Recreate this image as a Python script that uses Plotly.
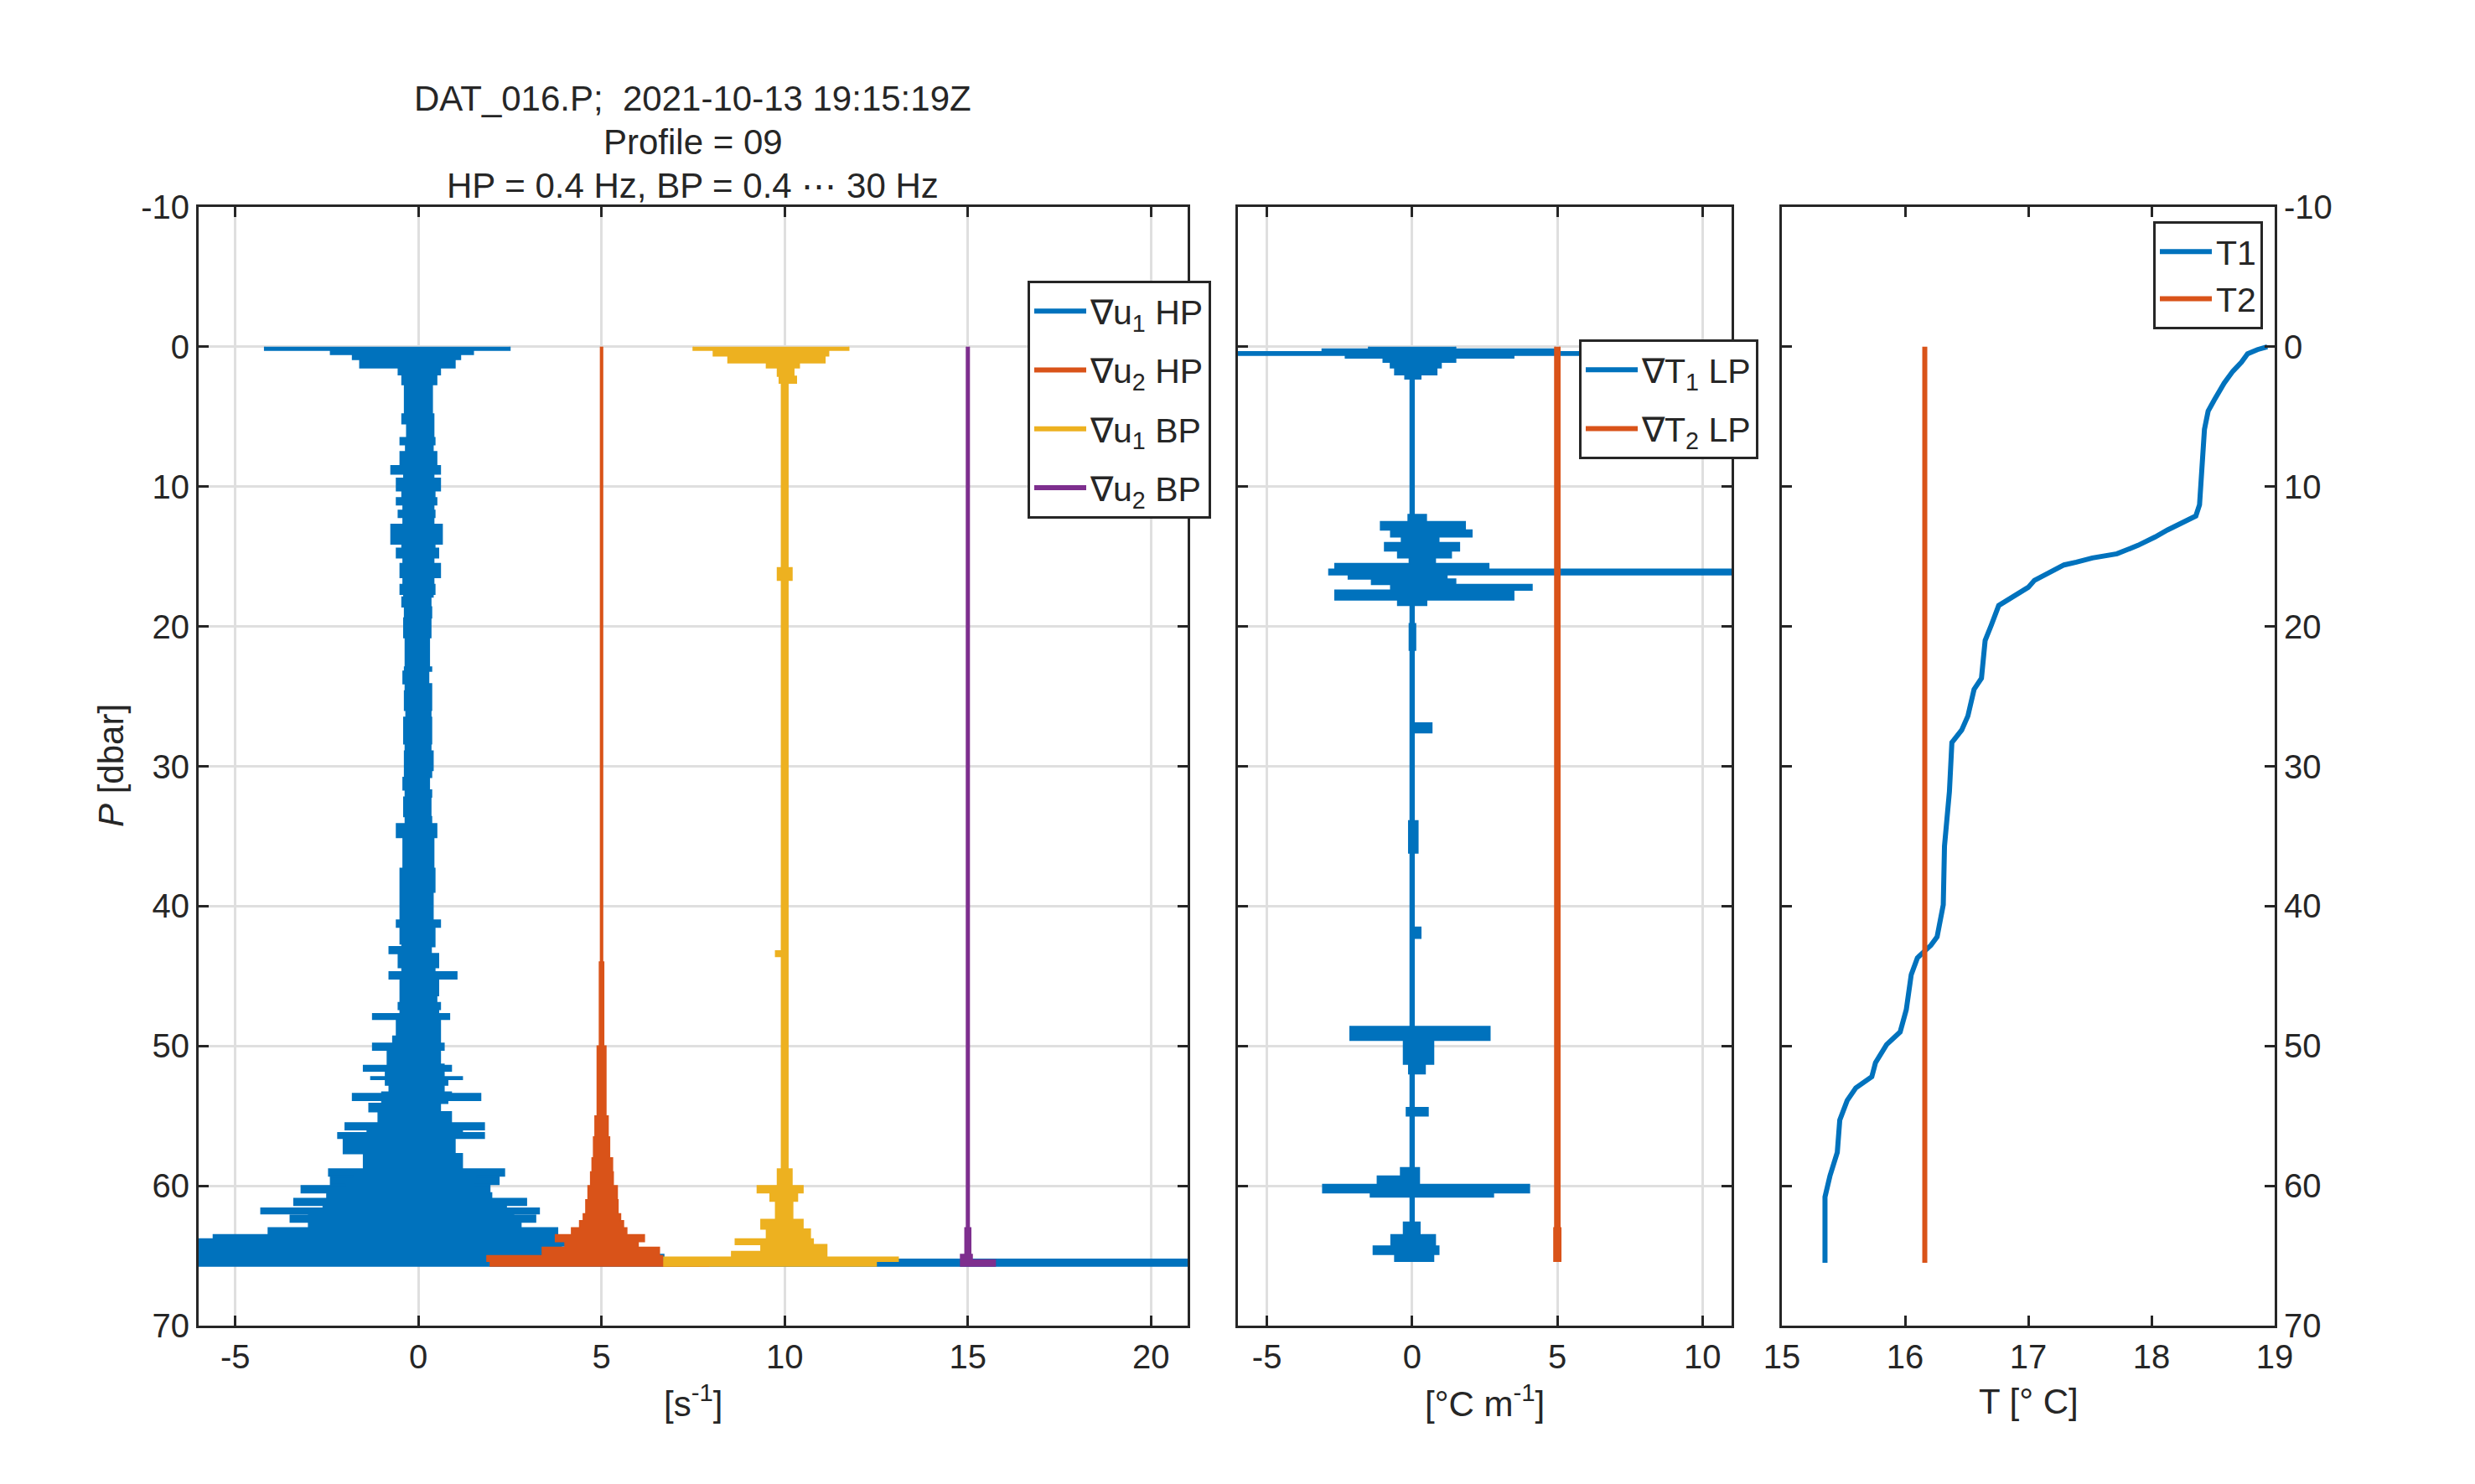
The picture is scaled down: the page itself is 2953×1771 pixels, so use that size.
import plotly.graph_objects as go

# ---- data --------------------------------------------------------------
# shear probes: depth of each sample band [dbar], left/right extent [s^-1]
u1hp_p = [0.0, 0.25, 0.55, 0.9, 1.5, 2.0, 2.7, 4.8, 5.5, 6.5, 7.0, 7.5, 8.5, 9.1, 9.4, 10.3, 10.8,
          11.3, 11.7, 12.2, 12.7, 14.1, 14.4, 15.1, 15.5, 16.5, 17.0, 17.7, 17.9, 18.6, 19.4, 20.8,
          22.9, 23.2, 24.1, 24.6, 26.0, 26.5, 28.4, 28.9, 30.3, 30.8, 31.7, 32.2, 33.6, 34.1, 35.1,
          37.3, 39.0, 41.0, 41.5, 42.7, 42.9, 43.4, 44.4, 44.7, 45.2, 46.4, 46.9, 47.4, 47.7, 48.1,
          48.4, 49.3, 49.8, 50.3, 51.3, 51.4, 51.8, 52.2, 52.4, 52.8, 53.3, 53.4, 53.9, 54.1, 54.7,
          55.5, 56.0, 56.2, 56.6, 57.7, 58.8, 59.3, 59.4, 59.9, 60.0, 60.5, 60.9, 61.4, 61.6, 62.0,
          62.1, 62.6, 63.0, 63.5, 63.8, 64.3, 64.9, 65.25]
u1hp_lo = [-4.2, -2.4, -1.8, -1.6, -0.55, -0.45, -0.38, -0.45, -0.32, -0.5, -0.35, -0.5, -0.75, -0.4,
           -0.6, -0.45, -0.6, -0.42, -0.55, -0.42, -0.75, -0.45, -0.6, -0.42, -0.5, -0.42, -0.5, -0.4,
           -0.45, -0.38, -0.4, -0.36, -0.38, -0.42, -0.36, -0.38, -0.34, -0.4, -0.36, -0.38, -0.38,
           -0.42, -0.36, -0.4, -0.36, -0.6, -0.42, -0.5, -0.5, -0.6, -0.5, -0.45, -0.8, -0.55, -0.45,
           -0.8, -0.5, -0.5, -0.55, -0.5, -1.25, -0.6, -0.6, -0.7, -1.25, -0.85, -0.8, -1.5, -0.9,
           -1.3, -0.9, -0.8, -1.0, -1.8, -1.0, -1.35, -1.1, -2.0, -1.4, -2.2, -2.05, -1.5, -2.45,
           -1.8, -2.4, -2.0, -3.2, -2.5, -3.4, -2.6, -4.3, -3.0, -3.5, -3.0, -4.1, -5.6, -6.1, -6.1,
           -6.1, -6.1]
u1hp_hi = [2.5, 1.5, 1.15, 1.0, 0.6, 0.5, 0.38, 0.42, 0.42, 0.45, 0.4, 0.5, 0.6, 0.42, 0.6, 0.45,
           0.5, 0.42, 0.45, 0.42, 0.65, 0.45, 0.55, 0.42, 0.6, 0.42, 0.45, 0.4, 0.34, 0.36, 0.34,
           0.3, 0.36, 0.28, 0.36, 0.36, 0.34, 0.36, 0.34, 0.4, 0.36, 0.3, 0.36, 0.34, 0.36, 0.5,
           0.42, 0.45, 0.4, 0.6, 0.45, 0.45, 0.35, 0.55, 0.45, 1.05, 0.55, 0.5, 0.6, 0.55, 0.85, 0.6,
           0.6, 0.6, 0.7, 0.6, 0.7, 0.9, 0.7, 1.2, 0.8, 0.7, 0.9, 1.7, 0.8, 0.6, 0.9, 1.8, 1.2, 1.8,
           1.0, 1.2, 2.35, 1.6, 2.2, 1.5, 1.95, 2.0, 2.95, 2.4, 3.3, 2.6, 3.2, 2.8, 3.8, 3.75, 4.55,
           3.9, 6.7, 21.5]

u2hp_p = [0.0, 44.0, 50.0, 55.0, 56.5, 58.0, 59.0, 60.0, 61.0, 62.0, 62.5, 63.0, 63.5, 64.0, 64.4,
          65.0, 65.4]
u2hp_lo = [-0.03, -0.06, -0.12, -0.18, -0.22, -0.26, -0.3, -0.37, -0.43, -0.5, -0.6, -0.82, -1.26,
           -1.0, -1.62, -3.13, -3.04]
u2hp_hi = [0.03, 0.06, 0.12, 0.18, 0.22, 0.3, 0.32, 0.43, 0.45, 0.52, 0.6, 0.69, 1.17, 1.0, 1.58,
           1.67, 2.92]

u1bp_p = [0.0, 0.25, 0.65, 1.15, 1.5, 2.1, 2.6, 15.8, 16.7, 43.2, 43.6, 58.8, 60.0, 60.5, 61.1,
          62.4, 63.1, 63.8, 64.2, 64.7, 65.1, 65.4]
u1bp_lo = [-2.5, -1.95, -1.55, -0.5, -0.2, -0.15, -0.09, -0.2, -0.09, -0.25, -0.09, -0.2, -0.75,
           -0.4, -0.25, -0.65, -0.5, -1.35, -0.65, -1.45, -3.3, -3.3]
u1bp_hi = [1.75, 1.2, 1.1, 0.4, 0.25, 0.32, 0.09, 0.2, 0.09, 0.1, 0.09, 0.2, 0.5, 0.35, 0.22, 0.5,
           0.7, 0.78, 1.15, 1.15, 3.1, 2.5]

u2bp_p = [0.0, 63.0, 64.9, 65.3]
u2bp_lo = [-0.04, -0.08, -0.2, -0.2]
u2bp_hi = [0.04, 0.08, 0.12, 0.75]

shear_end = 65.75
shear_offsets = [0, 5, 10, 15]

# thermistor gradients [degC m^-1]
t1lp_p = [0.0, 0.15, 0.35, 0.6, 0.8, 1.1, 1.5, 2.0, 2.3, 12.0, 12.5, 13.1, 13.6, 14.0, 14.6, 15.1,
          15.5, 15.9, 16.3, 16.6, 17.0, 17.4, 18.1, 18.5, 19.8, 21.7, 26.9, 27.6, 33.9, 36.2, 41.5,
          42.3, 48.6, 49.6, 51.3, 52.0, 54.4, 55.0, 58.7, 59.3, 59.9, 60.5, 60.8, 62.6, 63.5, 64.3,
          64.9]
t1lp_lo = [-1.5, -3.1, -6.2, -2.3, -1.0, -0.75, -0.6, -0.25, -0.07, -0.14, -1.09, -0.74, -0.37,
           -0.95, -0.5, -0.1, -2.66, -2.87, -2.2, -1.4, -0.74, -2.66, -0.5, -0.07, -0.1, -0.07,
           -0.07, -0.07, -0.12, -0.07, -0.05, -0.07, -2.14, -0.3, -0.12, -0.07, -0.2, -0.07, -0.4,
           -1.2, -3.08, -1.44, -0.07, -0.3, -0.73, -1.34, -0.6]
t1lp_hi = [1.5, 5.0, 11.5, 3.5, 1.5, 1.0, 0.85, 0.3, 0.07, 0.49, 1.83, 2.06, 0.92, 1.63, 1.35, 0.8,
           2.64, 11.5, 1.2, 1.5, 4.13, 3.5, 0.5, 0.07, 0.12, 0.07, 0.68, 0.07, 0.2, 0.07, 0.3, 0.07,
           2.68, 0.74, 0.45, 0.07, 0.55, 0.07, 0.25, 0.25, 4.04, 2.8, 0.07, 0.27, 0.8, 0.92, 0.74]

t2lp_p = [0.0, 63.0]
t2lp_lo = [-0.09, -0.12]
t2lp_hi = [0.09, 0.12]

grad_end = 65.4
grad_offsets = [0, 5]

# temperature profile
t_p = [0.0, 0.2, 0.5, 0.8, 1.1, 1.75, 2.6, 3.8, 4.6, 5.9, 8.6, 11.3, 12.1, 12.5, 13.1, 13.6, 14.2,
       14.8, 15.1, 15.4, 15.6, 16.2, 16.7, 17.2, 17.8, 18.5, 19.9, 21.0, 23.7, 24.5, 26.4, 27.4,
       28.3, 31.8, 35.7, 39.9, 42.2, 42.8, 43.7, 44.9, 47.4, 49.0, 49.9, 51.2, 52.2, 53.0, 53.9,
       55.3, 57.6, 59.3, 60.8, 65.5]
T1 = [18.94, 18.86, 18.78, 18.76, 18.73, 18.66, 18.59, 18.51, 18.46, 18.43, 18.41, 18.39, 18.36,
      18.26, 18.13, 18.03, 17.89, 17.72, 17.52, 17.39, 17.29, 17.16, 17.05, 17.0, 16.88, 16.76,
      16.70, 16.65, 16.62, 16.56, 16.51, 16.46, 16.38, 16.36, 16.32, 16.31, 16.26, 16.21, 16.10,
      16.05, 16.01, 15.96, 15.85, 15.76, 15.73, 15.60, 15.53, 15.47, 15.45, 15.39, 15.35, 15.35]
t2_p = [0.0, 65.5]
T2 = [16.16, 16.16]

title_lines = ["DAT_016.P;\u00a0 2021-10-13 19:15:19Z", "Profile = 09",
               "HP = 0.4 Hz, BP = 0.4 \u22ef 30 Hz"]
p_ticks = [-10, 0, 10, 20, 30, 40, 50, 60, 70]
shear_ticks = [-5, 0, 5, 10, 15, 20]
grad_ticks = [-5, 0, 5, 10]
temp_ticks = [15, 16, 17, 18, 19]

# ---- style -------------------------------------------------------------
W, H = 2953, 1771
FONT = "Liberation Sans, Arial, Helvetica, sans-serif"
INK = "#262626"
BLUE, ORANGE, YELLOW, PURPLE = "#0072BD", "#D95319", "#EDB120", "#7E2F8E"


def outline(p, lo, hi, p_end, offset):
    # stair-step outline of the band each sample covers, down the left side, up the right
    bottoms = list(p[1:]) + [p_end]
    xs, ys = [], []
    for top, bot, v in zip(p, bottoms, lo):
        xs += [offset + v, offset + v]
        ys += [top, bot]
    for top, bot, v in reversed(list(zip(p, bottoms, hi))):
        xs += [offset + v, offset + v]
        ys += [bot, top]
    return xs, ys


fig = go.Figure()


def add_band(p, lo, hi, p_end, offset, color, name, xa, ya, legend):
    xs, ys = outline(p, lo, hi, p_end, offset)
    fig.add_trace(go.Scatter(x=xs, y=ys, mode="lines", fill="toself", fillcolor=color,
                             line=dict(color=color, width=1.5), xaxis=xa, yaxis=ya,
                             showlegend=False, hoverinfo="skip"))
    # legend entry drawn as a line, like the original
    fig.add_trace(go.Scatter(x=[None], y=[None], mode="lines", line=dict(color=color, width=6),
                             name=name, legendgroup=name, xaxis=xa, yaxis=ya, legend=legend))


shear = [(u1hp_p, u1hp_lo, u1hp_hi, BLUE, "\u2207u<sub>1</sub> HP"),
         (u2hp_p, u2hp_lo, u2hp_hi, ORANGE, "\u2207u<sub>2</sub> HP"),
         (u1bp_p, u1bp_lo, u1bp_hi, YELLOW, "\u2207u<sub>1</sub> BP"),
         (u2bp_p, u2bp_lo, u2bp_hi, PURPLE, "\u2207u<sub>2</sub> BP")]
for (p, lo, hi, c, n), off in zip(shear, shear_offsets):
    add_band(p, lo, hi, shear_end, off, c, n, "x", "y", "legend")

grads = [(t1lp_p, t1lp_lo, t1lp_hi, BLUE, "\u2207T<sub>1</sub> LP"),
         (t2lp_p, t2lp_lo, t2lp_hi, ORANGE, "\u2207T<sub>2</sub> LP")]
for (p, lo, hi, c, n), off in zip(grads, grad_offsets):
    add_band(p, lo, hi, grad_end, off, c, n, "x2", "y2", "legend2")

fig.add_trace(go.Scatter(x=T1, y=t_p, mode="lines", line=dict(color=BLUE, width=6), name="T1",
                         xaxis="x3", yaxis="y3", legend="legend3"))
fig.add_trace(go.Scatter(x=T2, y=t2_p, mode="lines", line=dict(color=ORANGE, width=6), name="T2",
                         xaxis="x3", yaxis="y3", legend="legend3"))

tickfont = dict(family=FONT, size=40, color=INK)
base = dict(showline=True, linecolor=INK, linewidth=3, mirror="ticks", ticks="inside",
            ticklen=12, tickwidth=3, tickcolor=INK, tickfont=tickfont, zeroline=False,
            automargin=False, gridcolor="#dfdfdf", gridwidth=2.5, showgrid=True,
            tickmode="array")
ydom = [1 - 1582 / H, 1 - 247 / H]


def labels(vals):
    # MATLAB writes a plain hyphen for negative numbers
    return [str(v) for v in vals]


def py(y):
    return 1 - y / H


legend_style = dict(bgcolor="white", bordercolor=INK, borderwidth=3, itemwidth=62,
                    font=dict(family=FONT, size=41, color=INK), xanchor="right", yanchor="top")

yax = dict(base, domain=ydom, range=[70, -10], tickvals=p_ticks, ticktext=labels(p_ticks))

fig.update_layout(
    width=W, height=H, margin=dict(l=0, r=0, t=0, b=0),
    paper_bgcolor="white", plot_bgcolor="white",
    font=dict(family=FONT, color=INK),
    xaxis=dict(base, domain=[237 / W, 1417 / W], range=[-6, 21], tickvals=shear_ticks,
               ticktext=labels(shear_ticks), anchor="y"),
    yaxis=dict(yax, anchor="x"),
    xaxis2=dict(base, domain=[1477 / W, 2066 / W], range=[-6, 11], tickvals=grad_ticks,
                ticktext=labels(grad_ticks), anchor="y2"),
    yaxis2=dict(yax, showticklabels=False, anchor="x2"),
    xaxis3=dict(base, domain=[2126 / W, 2714 / W], range=[15, 19], tickvals=temp_ticks,
                ticktext=labels(temp_ticks), showgrid=False, anchor="y3"),
    yaxis3=dict(yax, side="right", showgrid=False, anchor="x3"),
    legend=dict(legend_style, x=1445 / W, y=py(335), tracegroupgap=14),
    legend2=dict(legend_style, x=2098 / W, y=py(405), tracegroupgap=14),
    legend3=dict(legend_style, x=2700 / W, y=py(264), tracegroupgap=0),
)

for text, y in zip(title_lines, [118, 170, 221]):
    fig.add_annotation(text=text, x=827 / W, y=py(y), xref="paper", yref="paper",
                       xanchor="center", yanchor="middle", showarrow=False,
                       font=dict(family=FONT, size=42, color=INK))

xlabels = [("[s<sup>-1</sup>]", 827), ("[\u00b0C m<sup>-1</sup>]", 1771), ("T [\u00b0 C]", 2420)]
for text, x in xlabels:
    fig.add_annotation(text=text, x=x / W, y=py(1672), xref="paper", yref="paper",
                       xanchor="center", yanchor="middle", showarrow=False,
                       font=dict(family=FONT, size=42, color=INK))
fig.add_annotation(text="<i>P</i> [dbar]", x=133 / W, y=py(914), xref="paper", yref="paper",
                   xanchor="center", yanchor="middle", textangle=-90, showarrow=False,
                   font=dict(family=FONT, size=42, color=INK))

fig.write_html("out.html", config={"displayModeBar": False},
               post_script="document.body.style.margin = '0';")
